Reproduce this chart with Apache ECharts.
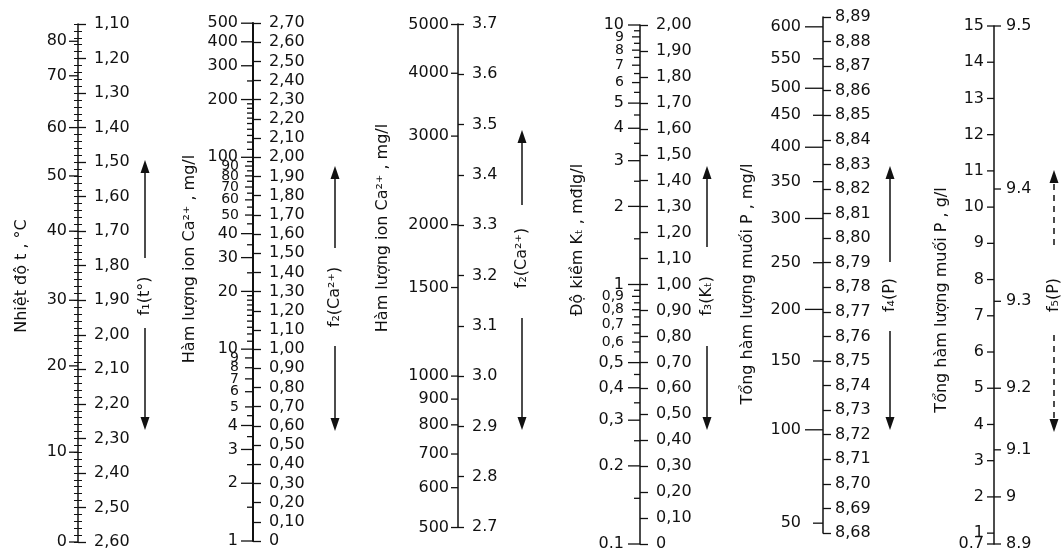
<!DOCTYPE html>
<html>
<head>
<meta charset="utf-8">
<script src="https://cdn.jsdelivr.net/npm/echarts@6/dist/echarts.min.js"></script>
<style>
  html, body { margin: 0; background: #fff; }
  #main { width: 1063px; height: 556px; }
</style>
</head>
<body>
<div id="main"></div>
<script>
// cot 1: nhiet do t (°C) va gia tri f1 doc tuong ung
const tempTicks = [0, 10, 20, 30, 40, 50, 60, 70, 80];
const tempF1 = [2.60, 2.34, 2.09, 1.90, 1.70, 1.54, 1.40, 1.25, 1.15];

// cot 2: Ca2+ mg/l, f2 = lg(Ca)
const ca1Major = [1, 2, 3, 4, 10, 20, 30, 40, 100, 200, 300, 400, 500];
const ca1Crowded = [5, 6, 7, 8, 9, 50, 60, 70, 80, 90];
const ca1Minor = [1.5, 2.5, 3.5, 4.5, 11, 12, 13, 14, 15, 16, 17, 18, 19, 25, 35, 45, 55, 65, 75, 85, 95, 110, 120, 130, 140, 150, 160, 170, 180, 190, 250];

// cot 3: Ca2+ mg/l (vung cao)
const ca2Labels = [500, 600, 700, 800, 900, 1000, 1500, 2000, 3000, 4000, 5000];

// cot 4: do kiem Kt, f3 = lg(K) + 1
const kMajor = [0.1, 0.2, 0.3, 0.4, 0.5, 1, 2, 3, 4, 5, 10];
const kCrowded = [0.6, 0.7, 0.8, 0.9, 6, 7, 8, 9];
const kMinor = [0.15, 0.25, 0.35, 0.45, 0.55, 0.65, 0.75, 0.85, 0.95, 1.5, 2.5, 3.5, 4.5, 5.5, 6.5, 7.5, 8.5, 9.5];

// cot 5: tong muoi P mg/l va f4 doc tuong ung
const pmgTicks = [50, 100, 150, 200, 250, 300, 350, 400, 450, 500, 550, 600];
const pmgF4 = [8.684, 8.722, 8.750, 8.771, 8.790, 8.808, 8.823, 8.837, 8.850, 8.861, 8.873, 8.886];

// cot 6: tong muoi P g/l, f5 dat tai cac vi tri P
const pgTicks = [0.7, 1, 2, 3, 4, 5, 6, 7, 8, 9, 10, 11, 12, 13, 14, 15];
const f5Ticks = [8.9, 9.0, 9.1, 9.2, 9.3, 9.4, 9.5];
const f5AtP = [0.7, 2.0, 3.3, 5.0, 7.4, 10.5, 15];

const FONT = '"DejaVu Sans", sans-serif';
const INK = '#111';

const cols = [
  { x: 78, top: 24, h: 518 },
  { x: 253, top: 23, h: 518 },
  { x: 458, top: 24, h: 503 },
  { x: 640, top: 25, h: 519 },
  { x: 823, top: 17, h: 516 },
  { x: 994, top: 26, h: 518 }
];

const comma = d => v => (v === 0 ? '0' : v.toFixed(d).replace('.', ','));
const numText = v => String(v).replace('.', ',');

function fAxis(grid, min, max, interval, fmt, extra) {
  return Object.assign({
    gridIndex: grid, type: 'value', position: 'left',
    min: min, max: max, interval: interval,
    splitLine: { show: false },
    axisLine: { show: true, lineStyle: { color: INK, width: 1.5 } },
    axisTick: { show: true, inside: true, length: 8, lineStyle: { color: INK, width: 1.3 } },
    axisLabel: { show: true, inside: true, margin: 16, color: INK, fontFamily: FONT, fontSize: 16, formatter: fmt }
  }, extra || {});
}

function tickSeries(grid, yIdx, items) {
  return {
    type: 'custom', xAxisIndex: grid, yAxisIndex: yIdx,
    silent: true, clip: false, z: 5,
    data: items.map(it => [0, it.v]),
    renderItem(params, api) {
      const it = items[params.dataIndex];
      const p = api.coord([0, api.value(1)]);
      const s = it.side === 'r' ? 1 : -1;
      const kids = [{
        type: 'line',
        shape: { x1: p[0], y1: p[1], x2: p[0] + s * it.len, y2: p[1] },
        style: { stroke: INK, lineWidth: it.w || 1.3 }
      }];
      if (it.text != null) {
        kids.push({
          type: 'text', x: p[0] + s * (it.len + (it.gap || 3)), y: p[1],
          style: {
            text: it.text, fill: INK, font: (it.fs || 16) + 'px ' + FONT,
            align: s > 0 ? 'left' : 'right', verticalAlign: 'middle'
          }
        });
      }
      return { type: 'group', children: kids };
    }
  };
}

const lg = Math.log10;

// cac vach ben trai / phai cua tung cot
const col1Items = tempTicks.map((t, i) => ({ v: tempF1[i], len: 9, gap: 2, text: String(t) }));
const col2Items = []
  .concat(ca1Major.map(v => ({ v: lg(v), len: 12, text: String(v) })))
  .concat(ca1Crowded.map(v => ({ v: lg(v), len: 8, gap: 6, fs: 14, text: String(v) })))
  .concat(ca1Minor.map(v => ({ v: lg(v), len: 6 })));
const col3Items = ca2Labels.map(v => ({ v: lg(v), len: 7, gap: 2, text: String(v) }));
const col4Items = []
  .concat(kMajor.map(v => ({ v: lg(v) + 1, len: 12, gap: 4, text: v < 0.25 ? String(v) : numText(v) })))
  .concat(kCrowded.map(v => ({ v: lg(v) + 1, len: 8, gap: 8, fs: 14, text: numText(v) })))
  .concat(kMinor.map(v => ({ v: lg(v) + 1, len: 6 })));
const col5Items = pmgTicks.map((p, i) => ({ v: pmgF4[i], len: p % 100 === 0 ? 18 : 10, gap: 4 + (p % 100 === 0 ? 0 : 8), text: String(p) }));
const col6Items = []
  .concat(pgTicks.map(v => ({ v: v, len: 7, gap: 3, text: String(v) })))
  .concat(f5Ticks.map((f, i) => ({ v: f5AtP[i], len: 7, gap: 5, side: 'r', text: f === 9 ? '9' : f.toFixed(1) })));

// tieu de xoay doc va mui ten f
const titles = [
  { x: 22, y: 276, text: 'Nhiệt độ t , °C' },
  { x: 190, y: 259, text: 'Hàm lượng ion Ca²⁺ , mg/l' },
  { x: 383, y: 228, text: 'Hàm lượng ion Ca²⁺ , mg/l' },
  { x: 578, y: 240, text: 'Độ kiềm Kₜ , mđlg/l' },
  { x: 748, y: 284, text: 'Tổng hàm lượng muối P , mg/l' },
  { x: 942, y: 300, text: 'Tổng hàm lượng muối P , g/l' }
];
const fLabels = [
  { x: 145, up: [258, 160], mid: 296, down: [328, 430], text: 'f₁(t°)' },
  { x: 335, up: [248, 166], mid: 297, down: [346, 431], text: 'f₂(Ca²⁺)' },
  { x: 522, up: [205, 130], mid: 258, down: [318, 430], text: 'f₂(Ca²⁺)' },
  { x: 707, up: [247, 166], mid: 296, down: [346, 430], text: 'f₃(Kₜ)' },
  { x: 890, up: [262, 166], mid: 295, down: [331, 430], text: 'f₄(P)' },
  { x: 1054, up: [245, 170], mid: 295, down: [335, 432], text: 'f₅(P)', dashed: true }
];

const graphic = [];
titles.forEach(t => graphic.push({
  type: 'text', x: t.x, y: t.y, rotation: Math.PI / 2, silent: true,
  style: { text: t.text, fill: INK, font: '16px ' + FONT, align: 'center', verticalAlign: 'middle' }
}));
function arrow(x, from, tip, dashed) {
  const dir = tip < from ? -1 : 1;
  const base = tip - dir * 13;
  graphic.push({
    type: 'line', silent: true,
    shape: { x1: x, y1: from, x2: x, y2: base },
    style: { stroke: INK, lineWidth: 1.5, lineDash: dashed ? [6, 5] : null }
  });
  graphic.push({
    type: 'polygon', silent: true,
    shape: { points: [[x, tip], [x - 4.5, base], [x + 4.5, base]] },
    style: { fill: INK }
  });
}
fLabels.forEach(f => {
  arrow(f.x, f.up[0], f.up[1], f.dashed);
  arrow(f.x, f.down[0], f.down[1], f.dashed);
  graphic.push({
    type: 'text', x: f.x, y: f.mid, rotation: Math.PI / 2, silent: true,
    style: { text: f.text, fill: INK, font: '16px ' + FONT, align: 'center', verticalAlign: 'middle' }
  });
});

const chart = echarts.init(document.getElementById('main'));
chart.setOption({
  animation: false,
  backgroundColor: '#fff',
  grid: cols.map(c => ({ left: c.x, top: c.top, height: c.h, width: 30 })),
  xAxis: cols.map((c, i) => ({ gridIndex: i, type: 'value', min: 0, max: 1, show: false })),
  yAxis: [
    fAxis(0, 1.1, 2.6, 0.1, comma(2), {
      inverse: true,
      minorTick: { show: true, splitNumber: 5, length: 4, lineStyle: { color: INK, width: 1 } }
    }),
    {
      gridIndex: 0, type: 'value', position: 'left', inverse: true,
      min: 1.1, max: 2.6, interval: 0.1,
      splitLine: { show: false }, axisLine: { show: false }, axisLabel: { show: false },
      axisTick: { show: true, length: 4, lineStyle: { color: INK, width: 1 } },
      minorTick: { show: true, splitNumber: 5, length: 4, lineStyle: { color: INK, width: 1 } }
    },
    fAxis(1, 0, 2.7, 0.1, comma(2), { axisLine: { show: true, lineStyle: { color: INK, width: 2 } } }),
    fAxis(2, 2.7, 3.7, 0.1, v => v.toFixed(1), { axisTick: { show: true, inside: true, length: 6, lineStyle: { color: INK, width: 1.3 } }, axisLabel: { show: true, inside: true, margin: 14, color: INK, fontFamily: FONT, fontSize: 16, formatter: v => v.toFixed(1) } }),
    fAxis(3, 0, 2, 0.1, comma(2)),
    fAxis(4, 8.68, 8.89, 0.01, comma(2), { axisLabel: { show: true, inside: true, margin: 12, color: INK, fontFamily: FONT, fontSize: 16, formatter: comma(2) } }),
    {
      gridIndex: 5, type: 'value', position: 'left', min: 0.7, max: 15,
      splitLine: { show: false }, axisTick: { show: false }, axisLabel: { show: false },
      axisLine: { show: true, lineStyle: { color: INK, width: 1.5 } }
    }
  ],
  series: [
    tickSeries(0, 0, col1Items),
    tickSeries(1, 2, col2Items),
    tickSeries(2, 3, col3Items),
    tickSeries(3, 4, col4Items),
    tickSeries(4, 5, col5Items),
    tickSeries(5, 6, col6Items)
  ],
  graphic: graphic
});
</script>
</body>
</html>
